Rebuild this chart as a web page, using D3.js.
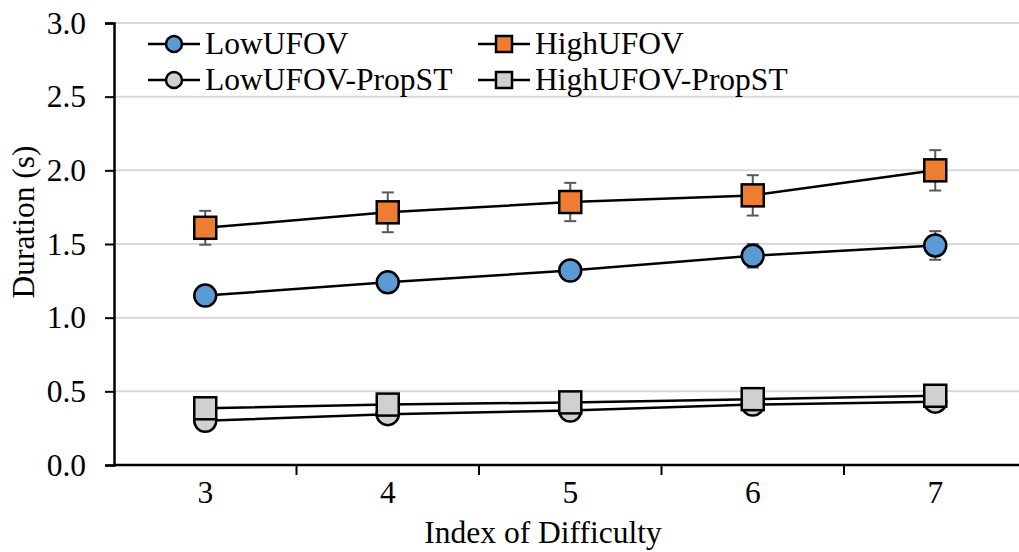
<!DOCTYPE html>
<html>
<head>
<meta charset="utf-8">
<script src="https://cdn.jsdelivr.net/npm/d3@7"></script>
<style>
  body { margin: 0; background: #fff; }
  svg { display: block; }
  svg text { font-family: "Liberation Serif", "Times New Roman", Times, serif; }
</style>
</head>
<body>
<svg width="1019" height="552"></svg>
<script>
// Chart data
const difficulty = ["3", "4", "5", "6", "7"];
const yTicks = [0, 0.5, 1.0, 1.5, 2.0, 2.5, 3.0];

const lowUFOV = [1.15, 1.24, 1.32, 1.42, 1.49];
const lowUFOVErr = [0.06, 0.05, 0.06, 0.08, 0.097];
const highUFOV = [1.61, 1.715, 1.785, 1.83, 2.0];
const highUFOVErr = [0.115, 0.135, 0.13, 0.137, 0.137];
const lowPropST = [0.30, 0.345, 0.37, 0.41, 0.43];
const highPropST = [0.385, 0.41, 0.425, 0.447, 0.47];

const series = [
  { name: "LowUFOV", values: lowUFOV, err: lowUFOVErr, shape: "circle", fill: "#5b9bd5" },
  { name: "HighUFOV", values: highUFOV, err: highUFOVErr, shape: "square", fill: "#ed7d31" },
  { name: "LowUFOV-PropST", values: lowPropST, err: null, shape: "circle", fill: "#d0d0d0" },
  { name: "HighUFOV-PropST", values: highPropST, err: null, shape: "square", fill: "#d0d0d0" }
];

const FONT = "'Liberation Serif', 'Times New Roman', Times, serif";
const FS = 31.5;
const svg = d3.select("svg").attr("font-family", FONT);
const margin = { left: 114, top: 23, bottom: 465 };

const x = d3.scaleBand()
    .domain(difficulty)
    .range([margin.left, margin.left + 5 * 182.5]);

const y = d3.scaleLinear()
    .domain([0, 3])
    .range([margin.bottom, margin.top]);

// Horizontal gridlines
svg.append("g")
    .selectAll("line")
    .data(yTicks.slice(1))
    .join("line")
    .attr("x1", margin.left)
    .attr("x2", 1019)
    .attr("y1", d => y(d))
    .attr("y2", d => y(d))
    .attr("stroke", "#d9d9d9")
    .attr("stroke-width", 2);

// Y axis
const yAxis = svg.append("g")
    .attr("transform", `translate(${margin.left},0)`)
    .call(d3.axisLeft(y).tickValues(yTicks).tickFormat(d3.format(".1f")).tickSize(9).tickPadding(19))
    .attr("font-family", FONT);
yAxis.select(".domain").attr("stroke", "#000").attr("stroke-width", 2.5);
yAxis.selectAll(".tick line").attr("stroke", "#000").attr("stroke-width", 2);
yAxis.selectAll(".tick text")
    .attr("font-size", FS)
    .attr("fill", "#000");

// X axis
const xAxis = svg.append("g")
    .attr("transform", `translate(0,${margin.bottom})`)
    .call(d3.axisBottom(x).tickSize(0).tickPadding(16))
    .attr("font-family", FONT);
xAxis.select(".domain").remove();
xAxis.append("line")
    .attr("x1", margin.left).attr("x2", 1019)
    .attr("stroke", "#000").attr("stroke-width", 2.5);
xAxis.selectAll(".bound")
    .data(difficulty.slice(1))
    .join("line")
    .attr("class", "bound")
    .attr("x1", d => x(d)).attr("x2", d => x(d))
    .attr("y1", 0).attr("y2", 10)
    .attr("stroke", "#000").attr("stroke-width", 2);
xAxis.selectAll(".tick text")
    .attr("font-size", FS)
    .attr("fill", "#000");

// Axis titles
svg.append("text")
    .attr("x", 543)
    .attr("y", 543)
    .attr("text-anchor", "middle")
    .attr("font-size", FS)
    .text("Index of Difficulty");

svg.append("text")
    .attr("transform", "translate(34,222) rotate(-90)")
    .attr("text-anchor", "middle")
    .attr("font-size", FS)
    .text("Duration (s)");

const cx = d => x(d) + x.bandwidth() / 2;

function drawMarker(g, shape, fill, size) {
    if (shape === "circle") {
        g.append("circle")
            .attr("r", size / 2)
            .attr("fill", fill)
            .attr("stroke", "#000")
            .attr("stroke-width", 2.5);
    } else {
        g.append("rect")
            .attr("x", -size / 2).attr("y", -size / 2)
            .attr("width", size).attr("height", size)
            .attr("fill", fill)
            .attr("stroke", "#000")
            .attr("stroke-width", 2.5);
    }
}

// Error bars
series.filter(s => s.err).forEach(s => {
    const g = svg.append("g").attr("stroke", "#595959").attr("stroke-width", 2);
    difficulty.forEach((d, i) => {
        const lo = y(s.values[i] - s.err[i]), hi = y(s.values[i] + s.err[i]);
        g.append("line").attr("x1", cx(d)).attr("x2", cx(d)).attr("y1", lo).attr("y2", hi);
        g.append("line").attr("x1", cx(d) - 6).attr("x2", cx(d) + 6).attr("y1", lo).attr("y2", lo);
        g.append("line").attr("x1", cx(d) - 6).attr("x2", cx(d) + 6).attr("y1", hi).attr("y2", hi);
    });
});

// Lines and markers
const line = d3.line()
    .x((v, i) => cx(difficulty[i]))
    .y(v => y(v));

series.forEach(s => {
    svg.append("path")
        .datum(s.values)
        .attr("d", line)
        .attr("fill", "none")
        .attr("stroke", "#000")
        .attr("stroke-width", 2.5);
    s.values.forEach((v, i) => {
        const g = svg.append("g").attr("transform", `translate(${cx(difficulty[i])},${y(v)})`);
        drawMarker(g, s.shape, s.fill, 22);
    });
});

// Legend
const legend = svg.append("g");
legend.append("rect")
    .attr("x", 133).attr("y", 27)
    .attr("width", 672).attr("height", 67)
    .attr("fill", "#fff");

const legendPos = [
    { x: 148, y: 44 }, { x: 478, y: 44 },
    { x: 148, y: 80 }, { x: 478, y: 80 }
];
series.forEach((s, i) => {
    const p = legendPos[i];
    const g = legend.append("g").attr("transform", `translate(${p.x},${p.y})`);
    g.append("line")
        .attr("x1", 0).attr("x2", 52)
        .attr("stroke", "#000").attr("stroke-width", 2.5);
    const m = g.append("g").attr("transform", "translate(26,0)");
    drawMarker(m, s.shape, s.fill, 16);
    g.append("text")
        .attr("x", 57)
        .attr("y", 10)
        .attr("font-size", FS)
        .text(s.name);
});
</script>
</body>
</html>
